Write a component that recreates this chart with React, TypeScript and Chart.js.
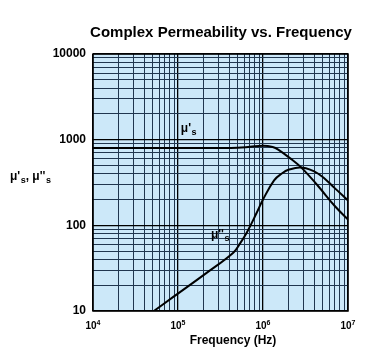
import React, { useEffect, useRef } from 'react';
import { Chart, registerables } from 'chart.js';

Chart.register(...registerables);

const FONT = '"Liberation Sans", Arial, Helvetica, sans-serif';

// Frequencies (Hz) and readings for μ's
const freqPrime = [1e4, 3e4, 1e5, 3e5, 5e5, 7e5, 1e6, 1.3e6, 1.51e6, 2.18e6, 2.85e6, 4.47e6, 7.03e6, 1e7];
const muPrime = [800, 800, 800, 800, 805, 825, 850, 820, 766, 586, 469, 286, 167, 117];

// Frequencies (Hz) and readings for μ''s
const freqDouble = [5.2e4, 8.8e4, 2.17e5, 4.47e5, 5.4e5, 6.43e5, 8.43e5, 1e6, 1.35e6, 1.65e6, 1.99e6, 2.85e6, 4.47e6, 7.03e6, 1e7];
const muDouble = [10, 14.6, 27.9, 48, 62, 82, 140, 200, 335, 400, 445, 472, 400, 270, 195];

// Axis ticks
const xDecades = [1e4, 1e5, 1e6, 1e7];
const xExponents = ['4', '5', '6', '7'];
const yDecades = [10, 100, 1000, 10000];
const yTickLabels = ['10', '100', '1000', '10000'];

const titleText = 'Complex Permeability vs. Frequency';
const xTitle = 'Frequency (Hz)';

function logTicks(min: number, max: number) {
  const out: number[] = [];
  for (let d = min; d < max; d *= 10) {
    for (let k = 1; k < 10; k++) out.push(k * d);
  }
  out.push(max);
  return out;
}

function isDecade(v: number) {
  const l = Math.log10(v);
  return Math.abs(l - Math.round(l)) < 1e-9;
}

function drawMu(ctx: CanvasRenderingContext2D, x: number, y: number, primes: string, size: number) {
  ctx.font = `bold ${size}px ${FONT}`;
  ctx.textAlign = 'left';
  ctx.textBaseline = 'alphabetic';
  const main = '\u03bc' + primes;
  ctx.fillText(main, x, y);
  const w = ctx.measureText(main).width;
  ctx.font = `bold ${Math.round(size * 0.75)}px ${FONT}`;
  ctx.fillText('s', x + w + 0.5, y + 3);
  return w + 0.5 + ctx.measureText('s').width;
}

const decorPlugin = {
  id: 'decor',
  beforeDraw(chart: any) {
    const { ctx, chartArea: a } = chart;
    ctx.save();
    ctx.fillStyle = '#cce8f9';
    ctx.fillRect(a.left, a.top, a.right - a.left, a.bottom - a.top);
    ctx.restore();
  },
  afterDraw(chart: any) {
    const { ctx, chartArea: a, scales } = chart;
    const xs = scales.x;
    const ys = scales.y;
    ctx.save();
    ctx.fillStyle = '#000';
    ctx.strokeStyle = '#000';
    ctx.lineWidth = 1.5;
    ctx.strokeRect(a.left, a.top, a.right - a.left, a.bottom - a.top);
    ctx.font = `bold 15px ${FONT}`;
    ctx.textAlign = 'center';
    ctx.textBaseline = 'alphabetic';
    ctx.fillText(titleText, 221, 37);
    ctx.font = `bold 12px ${FONT}`;
    ctx.fillText(xTitle, 233, 344);
    xDecades.forEach((v, i) => {
      const px = xs.getPixelForValue(v);
      ctx.font = `bold 10px ${FONT}`;
      const w1 = ctx.measureText('10').width;
      ctx.font = `bold 7px ${FONT}`;
      const w2 = ctx.measureText(xExponents[i]).width;
      const start = px - (w1 + w2) / 2;
      ctx.textAlign = 'left';
      ctx.font = `bold 10px ${FONT}`;
      ctx.fillText('10', start, 329);
      ctx.font = `bold 7px ${FONT}`;
      ctx.fillText(xExponents[i], start + w1, 325);
    });
    let x0 = 10;
    x0 += drawMu(ctx, x0, 180, "'", 12);
    ctx.font = `bold 12px ${FONT}`;
    ctx.fillText(', ', x0, 180);
    x0 += ctx.measureText(', ').width;
    drawMu(ctx, x0, 180, "''", 12);
    drawMu(ctx, xs.getPixelForValue(1.08e5), ys.getPixelForValue(1240), "'", 12);
    drawMu(ctx, xs.getPixelForValue(2.44e5), ys.getPixelForValue(72), "''", 12);
    ctx.restore();
  },
};

export default function App() {
  const ref = useRef<HTMLCanvasElement | null>(null);
  useEffect(() => {
    if (!ref.current) return;
    const gridColor = (c: any) => (c.tick && isDecade(c.tick.value) ? '#000000' : '#20364f');
    const gridWidth = (c: any) => (c.tick && isDecade(c.tick.value) ? 1.3 : 1);
    const chart = new Chart(ref.current, {
      type: 'line',
      data: {
        datasets: [
          {
            label: "μ's",
            data: freqPrime.map((f, i) => ({ x: f, y: muPrime[i] })),
            borderColor: '#000',
            borderWidth: 2,
            pointRadius: 0,
            fill: false,
            tension: 0.4,
          },
          {
            label: "μ''s",
            data: freqDouble.map((f, i) => ({ x: f, y: muDouble[i] })),
            borderColor: '#000',
            borderWidth: 2,
            pointRadius: 0,
            fill: false,
            tension: 0.4,
          },
        ],
      },
      options: {
        animation: false,
        responsive: false,
        devicePixelRatio: 1,
        layout: { padding: { left: 0, top: 54, right: 26, bottom: 0 } },
        plugins: {
          legend: { display: false },
          title: { display: false },
          tooltip: { enabled: false },
        },
        scales: {
          x: {
            type: 'logarithmic',
            min: 1e4,
            max: 1e7,
            afterBuildTicks: (s: any) => {
              s.ticks = logTicks(1e4, 1e7).map((v) => ({ value: v }));
            },
            afterFit: (s: any) => {
              s.height = 44;
            },
            ticks: { display: false, autoSkip: false },
            grid: { color: gridColor, lineWidth: gridWidth, drawTicks: false },
            border: { display: false },
          },
          y: {
            type: 'logarithmic',
            min: 10,
            max: 10000,
            afterBuildTicks: (s: any) => {
              s.ticks = logTicks(10, 10000).map((v) => ({ value: v }));
            },
            afterFit: (s: any) => {
              s.width = 93;
            },
            ticks: {
              autoSkip: false,
              padding: 7,
              color: '#000',
              font: { family: FONT, size: 12, weight: 'bold' },
              callback: (v: any) => {
                const i = yDecades.indexOf(Number(v));
                return i >= 0 ? yTickLabels[i] : '';
              },
            },
            grid: { color: gridColor, lineWidth: gridWidth, drawTicks: false },
            border: { display: false },
          },
        },
      },
      plugins: [decorPlugin],
    } as any);
    return () => chart.destroy();
  }, []);
  return (
    <div style={{ position: 'fixed', left: 0, top: 0, width: 374, height: 355, background: '#fff' }}>
      <canvas ref={ref} width={374} height={355} style={{ display: 'block', width: 374, height: 355 }} />
    </div>
  );
}
